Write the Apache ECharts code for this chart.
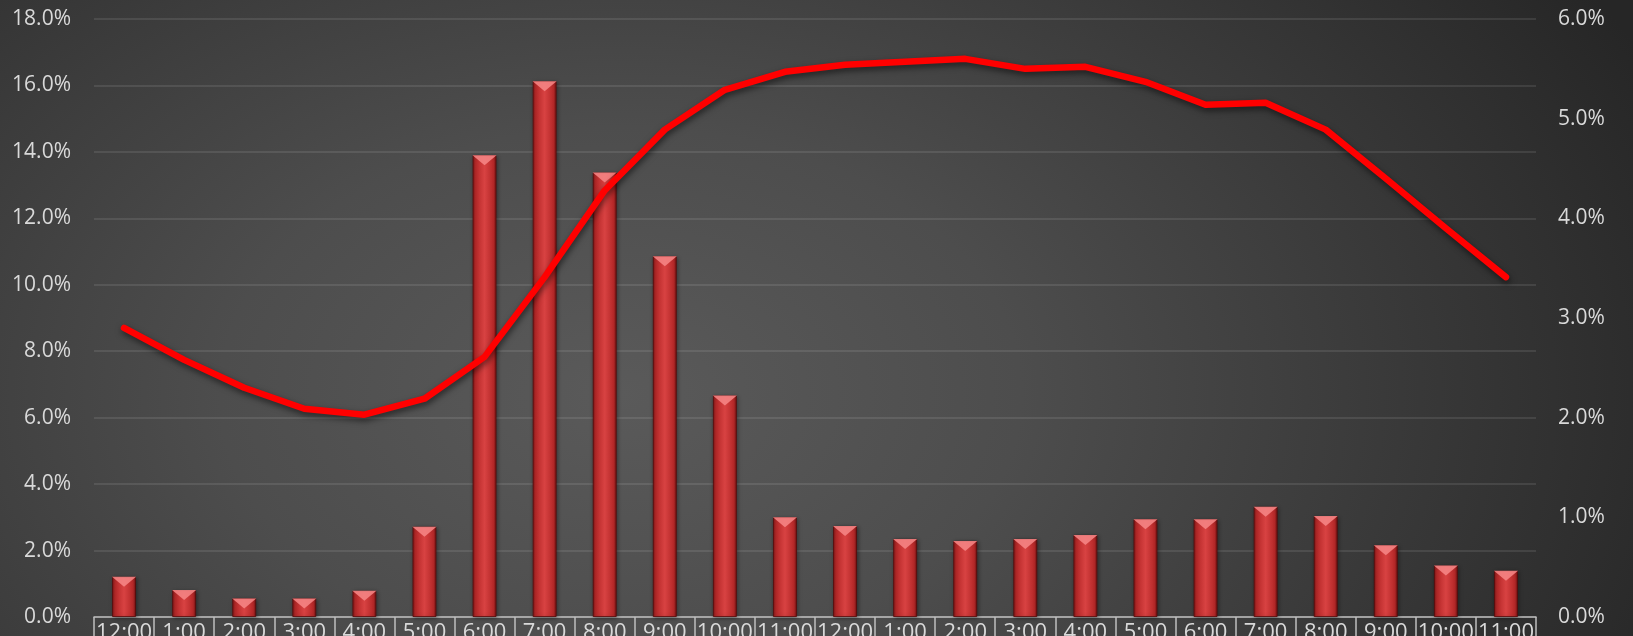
<!DOCTYPE html>
<html>
<head>
<meta charset="utf-8">
<script src="https://cdn.jsdelivr.net/npm/echarts@6/dist/echarts.min.js"></script>
<style>
html,body{margin:0;padding:0;width:1633px;height:636px;overflow:hidden;}
body{background:radial-gradient(ellipse 70% 120% at 38% 62%, #5a5a5a 0%, #4d4d4d 35%, #383838 70%, #262626 100%);}
#chart{width:1633px;height:636px;}
</style>
</head>
<body>
<div id="chart"></div>
<script>
const categories = ['12:00','1:00','2:00','3:00','4:00','5:00','6:00','7:00','8:00','9:00','10:00','11:00',
                    '12:00','1:00','2:00','3:00','4:00','5:00','6:00','7:00','8:00','9:00','10:00','11:00'];
const barValues = [1.21, 0.81, 0.56, 0.56, 0.79, 2.72, 13.9, 16.13, 13.38, 10.86, 6.67, 3.0,
                   2.74, 2.35, 2.29, 2.35, 2.47, 2.94, 2.94, 3.32, 3.04, 2.16, 1.55, 1.39];
const lineValues = [2.90, 2.58, 2.30, 2.09, 2.03, 2.19, 2.61, 3.41, 4.28, 4.89, 5.29, 5.47,
                    5.54, 5.57, 5.60, 5.50, 5.52, 5.37, 5.14, 5.16, 4.89, 4.40, 3.90, 3.41];
const leftTicks = {min: 0, max: 18, interval: 2};
const rightTicks = {min: 0, max: 6, interval: 1};

const chart = echarts.init(document.getElementById('chart'), null, {renderer: 'canvas'});
const fontFamily = '"Open Sans", "Noto Sans", sans-serif';
const labelColor = '#d9d9d9';
chart.setOption({
  backgroundColor: 'transparent',
  animation: false,
  grid: {left: 94, right: 97, top: 19, bottom: 19, containLabel: false, outerBoundsMode: 'none'},
  xAxis: {
    type: 'category',
    data: categories,
    boundaryGap: true,
    axisLine: {show: true, lineStyle: {color: '#bfbfbf', width: 1.5}},
    axisTick: {show: true, length: 22, lineStyle: {color: '#bfbfbf', width: 1.5}},
    axisLabel: {color: labelColor, fontSize: 22, fontFamily: fontFamily, margin: 5, interval: 0},
    splitLine: {show: false}
  },
  yAxis: [
    {
      type: 'value', min: leftTicks.min, max: leftTicks.max, interval: leftTicks.interval,
      axisLine: {show: false}, axisTick: {show: false},
      axisLabel: {color: labelColor, fontSize: 21, fontFamily: fontFamily, margin: 23,
                  formatter: v => v.toFixed(1) + '%'},
      splitLine: {show: true, lineStyle: {color: 'rgba(255,255,255,0.13)', width: 1.5}}
    },
    {
      type: 'value', min: rightTicks.min, max: rightTicks.max, interval: rightTicks.interval,
      position: 'right',
      axisLine: {show: false}, axisTick: {show: false},
      axisLabel: {color: labelColor, fontSize: 21, fontFamily: fontFamily, margin: 22,
                  formatter: v => v.toFixed(1) + '%'},
      splitLine: {show: false}
    }
  ],
  series: [
    {
      type: 'bar',
      yAxisIndex: 0,
      data: barValues,
      barWidth: 24,
      itemStyle: {
        color: {type: 'linear', x: 0, y: 0, x2: 1, y2: 0, colorStops: [
          {offset: 0, color: '#7a1616'},
          {offset: 0.12, color: '#b52828'},
          {offset: 0.5, color: '#d84242'},
          {offset: 0.88, color: '#b52828'},
          {offset: 1, color: '#6e1212'}
        ]},
        borderColor: 'rgba(90,10,10,0.8)',
        borderWidth: 1,
        shadowColor: 'rgba(0,0,0,0.4)',
        shadowBlur: 4,
        shadowOffsetX: 1,
        shadowOffsetY: 1
      },
      z: 2
    },
    {
      type: 'pictorialBar',
      yAxisIndex: 0,
      data: barValues,
      symbol: 'path://M0,0 L10,0 L5,4 Z',
      symbolSize: [24, 10],
      symbolPosition: 'end',
      symbolOffset: [0, 0],
      itemStyle: {color: '#f58484', opacity: 0.9},
      silent: true,
      z: 3
    },
    {
      type: 'line',
      yAxisIndex: 1,
      data: lineValues,
      showSymbol: false,
      smooth: false,
      lineStyle: {color: '#ff0000', width: 6.5, cap: 'round', join: 'round',
                  shadowColor: 'rgba(0,0,0,0.55)', shadowBlur: 6, shadowOffsetY: 3, shadowOffsetX: 1},
      z: 4
    }
  ]
});
</script>
</body>
</html>
